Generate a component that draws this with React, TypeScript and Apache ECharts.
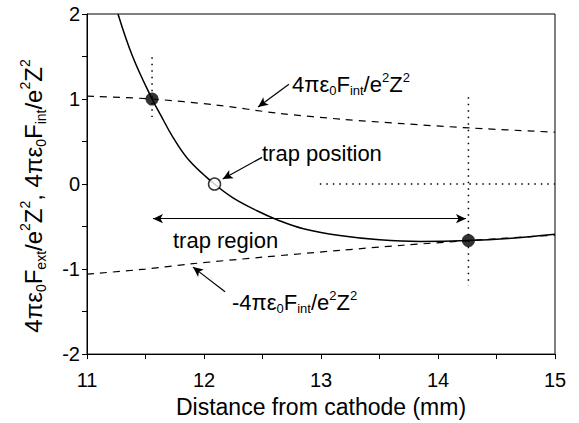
import React, { useEffect, useRef } from 'react';
import * as echarts from 'echarts';

const FONT = '"Liberation Sans", Arial, Helvetica, sans-serif';

// Solid curve: 4πε0 F_ext / e²Z²
const extX = [11.265, 11.39, 11.556, 11.624, 11.735, 11.88, 12.09, 12.248, 12.453, 12.624, 12.85, 13.16, 13.5, 13.85, 14.26, 14.6, 15.0];
const extY = [2.0, 1.5, 1.0, 0.826, 0.55, 0.267, 0.0, -0.163, -0.314, -0.419, -0.525, -0.605, -0.655, -0.675, -0.665, -0.64, -0.59];

// Dashed: +4πε0 F_int / e²Z²
const intUpX = [11.0, 11.556, 12.1, 12.65, 13.2, 13.7, 14.27, 15.0];
const intUpY = [1.035, 1.0, 0.93, 0.83, 0.76, 0.71, 0.66, 0.61];

// Dashed: -4πε0 F_int / e²Z²
const intLoX = [11.0, 11.5, 11.88, 12.5, 13.16, 13.7, 14.26, 15.0];
const intLoY = [-1.06, -1.0, -0.94, -0.86, -0.78, -0.72, -0.665, -0.6];

// Equilibrium points (filled) and trap position (open)
const filledPts = [[11.556, 1.0], [14.26, -0.665]];
const openPts = [[12.09, 0.0]];

// Dotted guide lines
const dotV1 = [[11.556, 1.49], [11.556, 0.79]];
const dotV2 = [[14.26, 1.02], [14.26, -1.2]];
const dotH = [[12.99, 0.0], [15.0, 0.0]];

// Annotation arrows (data units): [from, to]
const arrowUpper = [[12.726, 1.174], [12.462, 0.907]];
const arrowTrapPos = [[12.496, 0.314], [12.16, 0.06]];
const arrowLower = [[12.18, -1.267], [11.906, -0.977]];
const arrowRegion = [[11.564, -0.407], [14.239, -0.407]];

const xTickLabels = ['11', '12', '13', '14', '15'];
const yTickLabels = ['-2', '-1', '0', '1', '2'];

const zip = (xs: number[], ys: number[]) => xs.map((x, i) => [x, ys[i]]);

const fracText = (prefix: string, sub: string) =>
  `{m|${prefix}4πε}{s|0}{m|F}{s|${sub}}{m|/e}{p|2}{m|Z}{p|2}`;

const richFor = (main: number, small: number, lh: number) => ({
  m: { fontSize: main, fontFamily: FONT, color: '#000', lineHeight: lh },
  s: { fontSize: small, fontFamily: FONT, color: '#000', verticalAlign: 'bottom' },
  p: { fontSize: small, fontFamily: FONT, color: '#000', verticalAlign: 'top' },
});

export default function App() {
  const ref = useRef<HTMLDivElement>(null);
  useEffect(() => {
    const chart = echarts.init(ref.current!, null, { renderer: 'svg' });
    const black = '#000';
    const option: any = {
      animation: false,
      backgroundColor: '#fff',
      grid: {
        left: 87, right: 24, top: 14, bottom: 65,
        show: true, borderColor: black, borderWidth: 1, backgroundColor: 'transparent',
      },
      xAxis: {
        type: 'value', min: 11, max: 15, interval: 0.5,
        name: 'Distance from cathode (mm)', nameLocation: 'middle', nameGap: 34,
        nameTextStyle: { fontSize: 23, fontFamily: FONT, color: black },
        axisLine: { onZero: false, lineStyle: { color: black, width: 1 } },
        axisTick: { show: true, length: 5, inside: false, lineStyle: { color: black } },
        axisLabel: {
          fontSize: 20, fontFamily: FONT, color: black, margin: 16,
          formatter: (v: number) => (xTickLabels.includes(String(v)) ? String(v) : ''),
        },
        splitLine: { show: false },
      },
      yAxis: {
        type: 'value', min: -2, max: 2, interval: 0.5,
        axisLine: { show: true, onZero: false, lineStyle: { color: black, width: 1 } },
        axisTick: { show: true, length: 5, inside: false, lineStyle: { color: black } },
        axisLabel: {
          fontSize: 20, fontFamily: FONT, color: black, margin: 7,
          formatter: (v: number) => (yTickLabels.includes(String(v)) ? String(v) : ''),
        },
        splitLine: { show: false },
      },
      series: [
        {
          type: 'line', data: zip(extX, extY), smooth: 0.4,
          showSymbol: false, symbol: 'none', z: 3,
          lineStyle: { color: black, width: 1.5 },
          markLine: {
            silent: true, symbol: ['none', 'arrow'], symbolSize: [7, 10],
            label: { show: false },
            lineStyle: { color: black, width: 1.2, type: 'solid' },
            emphasis: { disabled: true },
            data: [
              [{ coord: arrowUpper[0] }, { coord: arrowUpper[1] }],
              [{ coord: arrowTrapPos[0] }, { coord: arrowTrapPos[1] }],
              [{ coord: arrowLower[0] }, { coord: arrowLower[1] }],
              [{ coord: arrowRegion[0], symbol: 'arrow' }, { coord: arrowRegion[1] }],
            ],
          },
        },
        {
          type: 'line', data: zip(intUpX, intUpY), smooth: 0.3, symbol: 'none', z: 2,
          lineStyle: { color: black, width: 1.2, type: [7, 6] },
        },
        {
          type: 'line', data: zip(intLoX, intLoY), smooth: 0.3, symbol: 'none', z: 2,
          lineStyle: { color: black, width: 1.2, type: [7, 6] },
        },
        {
          type: 'line', data: dotV1, symbol: 'none', z: 1,
          lineStyle: { color: black, width: 1.5, type: [1.5, 5] },
        },
        {
          type: 'line', data: dotV2, symbol: 'none', z: 1,
          lineStyle: { color: black, width: 1.5, type: [1.5, 5] },
        },
        {
          type: 'line', data: dotH, symbol: 'none', z: 1,
          lineStyle: { color: black, width: 1.5, type: [1.5, 5] },
        },
        {
          type: 'scatter', data: filledPts, symbol: 'circle', symbolSize: 13, z: 5,
          itemStyle: { color: black },
        },
        {
          type: 'scatter', data: openPts, symbol: 'circle', symbolSize: 12, z: 5,
          itemStyle: { color: '#fff', borderColor: black, borderWidth: 1.5 },
        },
      ],
      graphic: [
        {
          type: 'text', x: 33, y: 196, rotation: Math.PI / 2,
          style: {
            text: fracText('', 'ext') + '{m|, }' + fracText('', 'int'),
            rich: richFor(24, 14, 30),
            align: 'center', verticalAlign: 'middle',
          },
        },
        {
          type: 'text', x: 292, y: 84,
          style: { text: fracText('', 'int'), rich: richFor(22, 13, 26), align: 'left', verticalAlign: 'middle' },
        },
        {
          type: 'text', x: 232, y: 302,
          style: { text: fracText('-', 'int'), rich: richFor(22, 13, 26), align: 'left', verticalAlign: 'middle' },
        },
        {
          type: 'text', x: 262, y: 153,
          style: { text: 'trap position', fontSize: 22, fontFamily: FONT, fill: black, align: 'left', verticalAlign: 'middle' },
        },
        {
          type: 'text', x: 173, y: 240,
          style: { text: 'trap region', fontSize: 22, fontFamily: FONT, fill: black, align: 'left', verticalAlign: 'middle' },
        },
      ],
    };
    chart.setOption(option);
    return () => chart.dispose();
  }, []);
  return (
    <div
      ref={ref}
      style={{ width: 579, height: 423, position: 'absolute', left: 0, top: 0 }}
    />
  );
}
